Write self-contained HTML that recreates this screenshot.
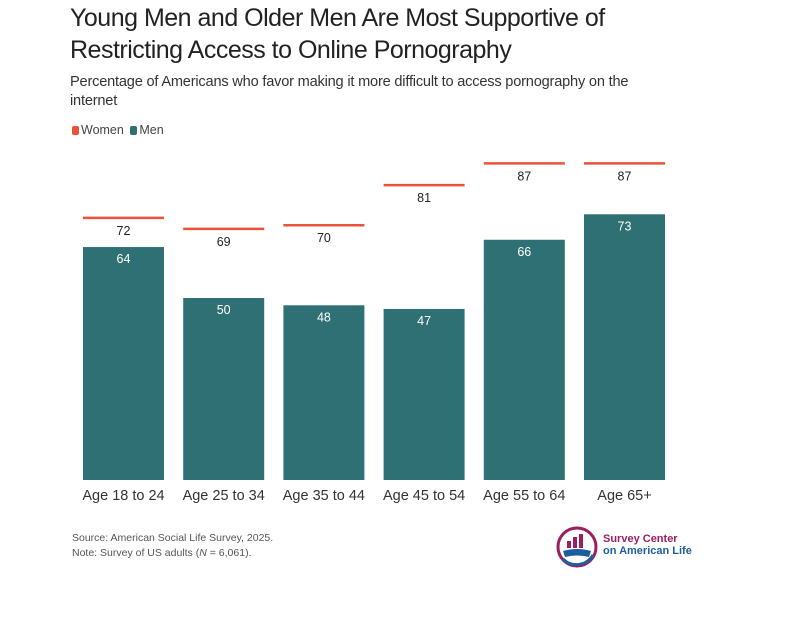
<!DOCTYPE html>
<html><head><meta charset="utf-8"><style>
body{margin:0;background:#fff;font-family:"Liberation Sans",sans-serif;}
#wrap{position:relative;width:795px;height:630px;overflow:hidden;}
.t{position:absolute;white-space:nowrap;}
</style></head><body><div id="wrap">
<div class="t" style="left:70px;top:2px;font-size:25px;line-height:32px;color:#222;letter-spacing:-0.5px">Young Men and Older Men Are Most Supportive of<br>Restricting Access to Online Pornography</div>
<div class="t" style="left:70px;top:73px;font-size:14.6px;line-height:19px;color:#333;letter-spacing:-0.2px">Percentage of Americans who favor making it more difficult to access pornography on the<br>internet</div>
<div class="t" style="left:72px;top:123px;font-size:12.5px;color:#444">
<span><span style="display:inline-block;width:7px;height:9px;background:#e8533a;border-radius:2px;vertical-align:-1px;margin-right:2px"></span>Women</span>
<span style="margin-left:3px"><span style="display:inline-block;width:7px;height:9px;background:#2e7074;border-radius:2px;vertical-align:-1px;margin-right:2px"></span>Men</span></div>
<svg id="chart" width="795" height="630" style="position:absolute;left:0;top:0"></svg>
<div class="t" style="left:72px;top:531px;font-size:10.5px;line-height:15px;color:#555">Source: American Social Life Survey, 2025.<br>Note: Survey of US adults (<i>N</i> = 6,061).</div>
<svg style="position:absolute;left:555px;top:525px" width="48" height="48">
<circle cx="22" cy="22" r="19" fill="none" stroke="#9b1f5f" stroke-width="3"/>
<path d="M8 34 A19 19 0 0 0 38 30" fill="none" stroke="#1c5f9e" stroke-width="3"/>
<rect x="12" y="16" width="4" height="7" fill="#9b1f5f"/><rect x="18" y="12" width="4" height="11" fill="#9b1f5f"/><rect x="24" y="9" width="4" height="14" fill="#9b1f5f"/>
<path d="M8 26 Q22 22 36 26 L34 32 Q22 29 10 32Z" fill="#1c5f9e"/></svg>
<div class="t" style="left:603px;top:533px;font-size:11px;line-height:12px;font-weight:bold"><span style="color:#9b1f5f">Survey Center</span><br><span style="color:#1c5f9e">on American Life</span></div>
</div>
<script>
const categories=["Age 18 to 24","Age 25 to 34","Age 35 to 44","Age 45 to 54","Age 55 to 64","Age 65+"];
const women=[72,69,70,81,87,87];
const men=[64,50,48,47,66,73];
const svg=document.getElementById('chart');
const NS="http://www.w3.org/2000/svg";
const base=480, k=3.64;
const y=v=>base-v*k;
const x=i=>83+i*100.2;
const bw=81;
function mk(t,a){const e=document.createElementNS(NS,t);for(const n in a)e.setAttribute(n,a[n]);svg.appendChild(e);return e;}
categories.forEach((c,i)=>{
 const b=mk('rect',{x:x(i),y:y(men[i]),width:bw,height:men[i]*k,fill:'#2e7074'});
 
 
 const ml=mk('text',{x:x(i)+bw/2,y:y(men[i])+16,'text-anchor':'middle','font-size':12.5,fill:'#fff'});ml.textContent=men[i];
 
 
 const wl=mk('line',{x1:x(i),x2:x(i)+bw,y1:y(women[i]),y2:y(women[i]),stroke:'#e8533a','stroke-width':2.5});
 
 
 const wt=mk('text',{x:x(i)+bw/2,y:y(women[i])+17,'text-anchor':'middle','font-size':12.5,fill:'#222'});wt.textContent=women[i];
 
 
 const xl=mk('text',{x:x(i)+bw/2,y:500,'text-anchor':'middle','font-size':14.5,fill:'#333'});xl.textContent=c;
 
 
});
</script></body></html>
